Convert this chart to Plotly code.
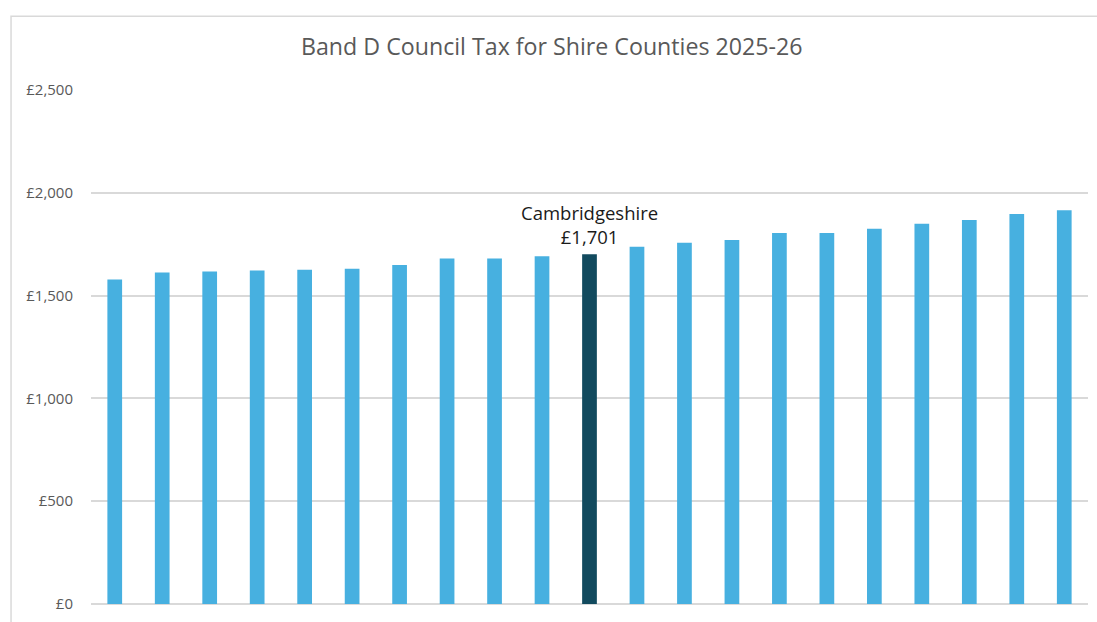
import plotly.graph_objects as go

# Data
counties = [f"County {i}" for i in range(1, 11)] + ["Cambridgeshire"] + [f"County {i}" for i in range(12, 22)]
band_d = [1578, 1612, 1617, 1622, 1626, 1630, 1649, 1681, 1681, 1691,
          1701,
          1738, 1757, 1771, 1804, 1804, 1825, 1849, 1868, 1897, 1915]
highlight = "Cambridgeshire"
y_ticks = [0, 500, 1000, 1500, 2000, 2500]
y_tick_text = ["£0", "£500", "£1,000", "£1,500", "£2,000", "£2,500"]

BASE = "#47B0E0"
HIGH = "#124A5E"
colors = [HIGH if c == highlight else BASE for c in counties]

fig = go.Figure(go.Bar(
    x=counties, y=band_d, marker=dict(color=colors, line=dict(width=0)),
    width=0.31, hoverinfo="x+y",
))

hi_idx = counties.index(highlight)
fig.add_annotation(
    x=counties[hi_idx], y=band_d[hi_idx],
    text=f"{highlight}<br>£{band_d[hi_idx]:,}",
    showarrow=False, yanchor="bottom", yshift=3,
    font=dict(family="Open Sans", size=18.5, color="#1a1a1a"),
)

fig.add_shape(type="rect", xref="paper", yref="paper",
              x0=-0.0802, x1=1.012, y0=-0.07, y1=1.1434,
              line=dict(color="#D9D9D9", width=1.5), fillcolor="rgba(0,0,0,0)", layer="below")

fig.update_layout(
    width=1097, height=622,
    margin=dict(l=91, r=9, t=90, b=14),
    paper_bgcolor="white", plot_bgcolor="white",
    title=dict(text="Band D Council Tax for Shire Counties 2025-26",
               x=0.503, xanchor="center", y=1 - 47 / 622, yanchor="middle", yref="container",
               font=dict(family="Open Sans", size=23.2, color="#595959")),
    showlegend=False,
    bargap=0.69,
)
fig.update_xaxes(showticklabels=False, showgrid=False, zeroline=False, showline=False, ticks="")
fig.update_yaxes(range=[0, 2500], tickvals=y_ticks, ticktext=y_tick_text,
                 showgrid=True, gridcolor="#D9D9D9", gridwidth=1.5,
                 zeroline=True, zerolinecolor="#D9D9D9", zerolinewidth=1.5,
                 showline=False, ticks="", ticklabelstandoff=17,
                 tickfont=dict(family="Open Sans", size=15, color="#595959"))

fig.write_html("out.html", config={"displayModeBar": False},
               post_script="document.body.style.margin='0';document.body.style.overflow='hidden';")
